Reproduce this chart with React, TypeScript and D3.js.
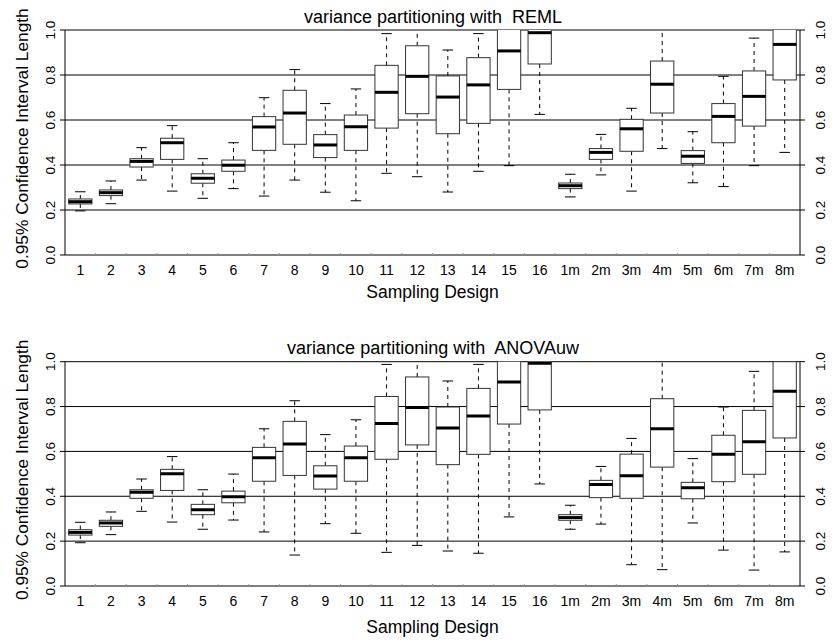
import React from 'react';
import * as d3 from 'd3';

const designs = ['1', '2', '3', '4', '5', '6', '7', '8', '9', '10', '11', '12', '13', '14', '15', '16',
  '1m', '2m', '3m', '4m', '5m', '6m', '7m', '8m'];

const yTicks = [0, 0.2, 0.4, 0.6, 0.8, 1.0];

// REML panel (values above 1 are clipped by the plot region)
const remlLower = [0.196, 0.228, 0.333, 0.284, 0.252, 0.295, 0.262, 0.333, 0.279, 0.241, 0.363, 0.348, 0.28, 0.372, 0.397, 0.625,
  0.258, 0.356, 0.284, 0.473, 0.321, 0.304, 0.397, 0.456];
const remlQ1 = [0.227, 0.264, 0.391, 0.425, 0.319, 0.372, 0.465, 0.492, 0.433, 0.465, 0.564, 0.628, 0.539, 0.585, 0.736, 0.849,
  0.295, 0.425, 0.461, 0.631, 0.407, 0.499, 0.573, 0.778];
const remlMedian = [0.237, 0.277, 0.416, 0.499, 0.341, 0.399, 0.569, 0.631, 0.489, 0.57, 0.723, 0.794, 0.702, 0.756, 0.907, 0.988,
  0.308, 0.456, 0.561, 0.759, 0.439, 0.616, 0.705, 0.936];
const remlQ3 = [0.249, 0.289, 0.428, 0.519, 0.361, 0.422, 0.615, 0.732, 0.535, 0.622, 0.843, 0.93, 0.796, 0.877, 1.02, 1.03,
  0.32, 0.473, 0.603, 0.862, 0.464, 0.673, 0.818, 1.02];
const remlUpper = [0.281, 0.329, 0.477, 0.575, 0.428, 0.499, 0.699, 0.824, 0.673, 0.738, 0.984, 1.05, 0.911, 0.984, 1.1, 1.1,
  0.359, 0.536, 0.652, 1.05, 0.548, 0.794, 0.964, 1.1];

// ANOVAuw panel
const anovaLower = [0.193, 0.229, 0.333, 0.285, 0.253, 0.294, 0.241, 0.138, 0.278, 0.235, 0.15, 0.181, 0.156, 0.146, 0.308, 0.455,
  0.253, 0.276, 0.095, 0.073, 0.281, 0.16, 0.071, 0.152];
const anovaQ1 = [0.227, 0.266, 0.391, 0.426, 0.318, 0.371, 0.467, 0.493, 0.432, 0.467, 0.565, 0.629, 0.541, 0.587, 0.722, 0.785,
  0.293, 0.394, 0.391, 0.53, 0.389, 0.465, 0.498, 0.66];
const anovaMedian = [0.239, 0.281, 0.418, 0.501, 0.34, 0.398, 0.572, 0.633, 0.49, 0.572, 0.725, 0.796, 0.704, 0.758, 0.909, 0.993,
  0.305, 0.453, 0.492, 0.701, 0.438, 0.587, 0.643, 0.868];
const anovaQ3 = [0.251, 0.293, 0.429, 0.52, 0.364, 0.423, 0.618, 0.734, 0.536, 0.624, 0.845, 0.932, 0.798, 0.881, 1.02, 1.03,
  0.318, 0.471, 0.588, 0.835, 0.462, 0.672, 0.783, 1.0];
const anovaUpper = [0.284, 0.33, 0.477, 0.577, 0.429, 0.499, 0.701, 0.826, 0.675, 0.741, 0.988, 1.05, 0.914, 0.988, 1.1, 1.1,
  0.36, 0.533, 0.658, 1.05, 0.568, 0.798, 0.957, 1.1];

const FONT = 'Liberation Sans, Arial, Helvetica, sans-serif';

type PanelProps = {
  id: string;
  title: string;
  top: number;
  bottom: number;
  xTitleGap: number;
  lower: number[];
  q1: number[];
  median: number[];
  q3: number[];
  upper: number[];
};

const left = 65;
const right = 800;

function Panel({ id, title, top, bottom, xTitleGap, lower, q1, median, q3, upper }: PanelProps) {
  const x = d3.scaleBand<string>().domain(designs).range([left, right]).paddingInner(0).paddingOuter(0);
  const y = d3.scaleLinear().domain([0, 1]).range([bottom, top]);
  const boxW = x.bandwidth() * 0.76;
  const capW = boxW * 0.45;
  const cx = (d: string) => (x(d) as number) + x.bandwidth() / 2;
  const clipId = `clip-${id}`;

  return (
    <g>
      <defs>
        <clipPath id={clipId}>
          <rect x={left} y={top} width={right - left} height={bottom - top} />
        </clipPath>
      </defs>
      {/* grid lines */}
      {yTicks.slice(1).map(t => (
        <line key={`g${t}`} x1={left} x2={right} y1={y(t)} y2={y(t)} stroke="#000" strokeWidth={1} />
      ))}
      {/* axes */}
      <line x1={left} x2={left} y1={top} y2={bottom} stroke="#000" />
      <line x1={right} x2={right} y1={top} y2={bottom} stroke="#000" />
      <line x1={left} x2={right} y1={bottom} y2={bottom} stroke="#000" />
      {designs.slice(1).map(d => (
        <line key={`xt${d}`} x1={x(d)} x2={x(d)} y1={bottom} y2={bottom - 2} stroke="#999" />
      ))}
      {yTicks.map(t => (
        <g key={`t${t}`}>
          <line x1={left - 5} x2={left} y1={y(t)} y2={y(t)} stroke="#000" />
          <line x1={right} x2={right + 5} y1={y(t)} y2={y(t)} stroke="#000" />
          <text transform={`translate(${left - 10},${y(t)}) rotate(-90)`} textAnchor="middle"
            fontFamily={FONT} fontSize={13.5} fill="#000">{d3.format('.1f')(t)}</text>
          <text transform={`translate(${right + 25},${y(t)}) rotate(-90)`} textAnchor="middle"
            fontFamily={FONT} fontSize={13.5} fill="#000">{d3.format('.1f')(t)}</text>
        </g>
      ))}
      {/* boxes */}
      <g clipPath={`url(#${clipId})`}>
        {designs.map((d, i) => {
          const c = cx(d);
          return (
            <g key={`b${d}`}>
              <line x1={c} x2={c} y1={y(q3[i])} y2={y(upper[i])} stroke="#000" strokeDasharray="4,4" />
              <line x1={c} x2={c} y1={y(q1[i])} y2={y(lower[i])} stroke="#000" strokeDasharray="4,4" />
              <line x1={c - capW / 2} x2={c + capW / 2} y1={y(upper[i])} y2={y(upper[i])} stroke="#000" />
              <line x1={c - capW / 2} x2={c + capW / 2} y1={y(lower[i])} y2={y(lower[i])} stroke="#000" />
              <rect x={c - boxW / 2} y={y(q3[i])} width={boxW} height={y(q1[i]) - y(q3[i])}
                fill="#fff" stroke="#333" strokeWidth={1} />
              <line x1={c - boxW / 2} x2={c + boxW / 2} y1={y(median[i])} y2={y(median[i])}
                stroke="#000" strokeWidth={3} />
            </g>
          );
        })}
      </g>
      {/* x labels */}
      {designs.map(d => (
        <text key={`xl${d}`} x={cx(d)} y={bottom + 19.5} textAnchor="middle" fontFamily={FONT} fontSize={14} fill="#000">{d}</text>
      ))}
      <text x={(left + right) / 2} y={bottom + xTitleGap} textAnchor="middle" fontFamily={FONT} fontSize={17.5} fill="#000">Sampling Design</text>
      <text x={433} y={top - 7.5} textAnchor="middle" fontFamily={FONT} fontSize={18} fill="#000" style={{ whiteSpace: 'pre' }}>{title}</text>
      <text transform={`translate(28,${(top + bottom) / 2 - 4}) rotate(-90)`} textAnchor="middle"
        fontFamily={FONT} fontSize={17.3} fill="#000">0.95% Confidence Interval Length</text>
    </g>
  );
}

export default function App() {
  return (
    <svg width={838} height={643} style={{ position: 'absolute', left: 0, top: 0, background: '#fff' }}>
      <rect x={0} y={0} width={838} height={643} fill="#fff" />
      <Panel id="reml" title="variance partitioning with  REML" top={30} bottom={255} xTitleGap={43}
        lower={remlLower} q1={remlQ1} median={remlMedian} q3={remlQ3} upper={remlUpper} />
      <Panel id="anova" title="variance partitioning with  ANOVAuw" top={361.7} bottom={586} xTitleGap={47}
        lower={anovaLower} q1={anovaQ1} median={anovaMedian} q3={anovaQ3} upper={anovaUpper} />
    </svg>
  );
}
